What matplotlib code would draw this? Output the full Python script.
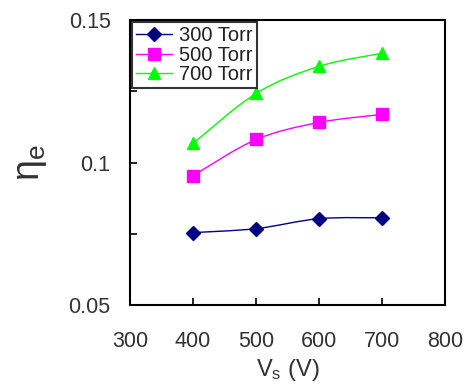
import numpy as np
import matplotlib
matplotlib.use("Agg")
import matplotlib.pyplot as plt
from matplotlib.path import Path
from matplotlib.patches import PathPatch
from matplotlib.lines import Line2D

plt.rcParams['font.family'] = ['Liberation Sans', 'DejaVu Sans']
plt.rcParams['mathtext.fontset'] = 'custom'
plt.rcParams['mathtext.rm'] = 'Liberation Sans'
plt.rcParams['mathtext.it'] = 'Liberation Sans'

vs = [400, 500, 600, 700]
eta_300 = [0.0754, 0.0768, 0.0803, 0.0806]
eta_500 = [0.0954, 0.1081, 0.1141, 0.1169]
eta_700 = [0.1067, 0.1243, 0.1338, 0.1384]
labels = ['300 Torr', '500 Torr', '700 Torr']
colors = ['#000080', '#FF00FF', '#00FF00']
markers = ['D', 's', '^']
msizes = [7, 8, 9]

fig = plt.figure(figsize=(4.66, 3.87), dpi=100)
ax = fig.add_axes([0.279, 0.212, 0.677, 0.736])


def smooth_path(x, y):
    x = np.asarray(x, float)
    y = np.asarray(y, float)
    n = len(x)
    verts = [(x[0], y[0])]
    codes = [Path.MOVETO]
    for i in range(n - 1):
        i0 = max(i - 1, 0)
        i3 = min(i + 2, n - 1)
        c1 = (x[i] + (x[i + 1] - x[i0]) / 6, y[i] + (y[i + 1] - y[i0]) / 6)
        c2 = (x[i + 1] - (x[i3] - x[i]) / 6, y[i + 1] - (y[i3] - y[i]) / 6)
        verts += [c1, c2, (x[i + 1], y[i + 1])]
        codes += [Path.CURVE4] * 3
    return Path(verts, codes)


handles = []
for ys, lab, c, m, ms in zip([eta_300, eta_500, eta_700], labels, colors, markers, msizes):
    ax.add_patch(PathPatch(smooth_path(vs, ys), facecolor='none', edgecolor=c, lw=1.0))
    ax.plot(vs, ys, linestyle='none', marker=m, color=c, markersize=ms, markeredgecolor=c)
    handles.append(Line2D([], [], color=c, lw=1.0, marker=m, markersize=ms, markeredgecolor=c))

ax.set_xlim(300, 800)
ax.set_ylim(0.05, 0.15)
ax.set_xticks([300, 400, 500, 600, 700, 800])
ax.set_yticks([0.05, 0.1, 0.15])
ax.set_yticklabels(['0.05', '0.1', '0.15'])
ax.set_yticks([0.075, 0.125], minor=True)
ax.tick_params(axis='both', which='both', direction='in', length=5, width=1.2,
               labelsize=15.5, colors='black', labelcolor='#333333')
ax.tick_params(axis='y', pad=14)
ax.tick_params(axis='x', pad=19)
for s in ax.spines.values():
    s.set_linewidth(1.5)

ax.set_xlabel(r'V$_\mathregular{s}$ (V)', fontsize=17, color='#333333', labelpad=3)
ax.set_ylabel(r'$\mathregular{η_e}$', fontsize=27, color='#333333', labelpad=14)

leg = ax.legend(handles, labels, loc='upper left', fontsize=14.5, frameon=True,
                fancybox=False, borderpad=0.2, labelspacing=0.02, handlelength=1.8,
                handletextpad=0.35, borderaxespad=0.1, edgecolor='black')
leg.get_frame().set_linewidth(1.5)
for t in leg.get_texts():
    t.set_color('#222222')

fig.savefig('out.png', dpi=100)
